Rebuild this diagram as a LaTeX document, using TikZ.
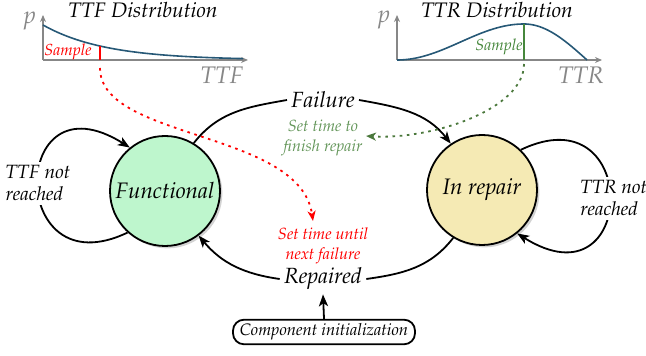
\documentclass[tikz,border=0pt]{standalone}
\usepackage[T1]{fontenc}
\usepackage{mathpazo}
\usetikzlibrary{arrows.meta,shadows,calc}

\definecolor{stategreen}{RGB}{190,246,205}
\definecolor{stateyellow}{RGB}{245,234,180}
\definecolor{curveblue}{RGB}{38,88,118}
\definecolor{axisgray}{RGB}{135,135,135}
\definecolor{samplegreen}{RGB}{70,135,60}
\definecolor{notegreen}{RGB}{100,150,90}
\definecolor{dotgreen}{RGB}{75,120,60}

\tikzset{
  fsz/.style={font=\fontsize{#1}{#1}\selectfont\itshape},
  state/.style={circle, draw, line width=0.9pt, minimum size=55pt, inner sep=0pt,
    drop shadow={shadow xshift=1.2pt, shadow yshift=-1.2pt, opacity=0.35}},
  trans/.style={line width=0.9pt, -{Stealth[length=6pt,width=4.6pt,inset=1.6pt]}},
  plain/.style={line width=0.9pt},
  event/.style={fsz=11, inner sep=2pt},
  note/.style={align=center, font=\fontsize{8.1}{10}\selectfont\itshape, inner sep=1pt},
  looplabel/.style={fill=white, align=left, font=\fontsize{9.6}{11}\selectfont\itshape, inner sep=2pt},
  axis/.style={axisgray, line width=0.6pt, -{Stealth[length=3.5pt,width=3pt]}},
  axislabel/.style={axisgray, fsz=12, inner sep=0pt},
  curve/.style={curveblue, line width=0.8pt},
  sampletext/.style={fsz=8, inner sep=0pt},
  samplelink/.style={line width=0.9pt, dash pattern=on 1.3pt off 2.3pt,
    -{Stealth[length=5pt,width=4pt,inset=1.4pt]}},
}

\begin{document}
\begin{tikzpicture}[x=0.5pt, y=-0.5pt]
\useasboundingbox (0,0) rectangle (646,356);

% ---------- TTF distribution ----------
\node[fsz=10.5] (ttftitle) at (143,10) {TTF Distribution};
\coordinate (ttfo) at (43,60);
\draw[axis] (ttfo) -- (43,15);
\draw[axis] (ttfo) -- (248,60);
\node[axislabel] (ttfp) at (30,21) {p};
\node[axislabel] (ttfx) at (222,75) {TTF};
\draw[curve] plot[domain=0:200, samples=60, smooth] ({43+\x},{60-35*exp(-\x/62)});
\coordinate (ttfbar) at (100,60);
\draw[red, line width=0.9pt] (ttfbar) -- (100,{60-35*exp(-57/62)});
\node[sampletext, red] (ttfsample) at (68,52) {Sample};

% ---------- TTR distribution ----------
\node[fsz=10.5] (ttrtitle) at (497,10) {TTR Distribution};
\coordinate (ttro) at (397,60);
\draw[axis] (ttro) -- (397,15);
\draw[axis] (ttro) -- (602,60);
\node[axislabel] (ttrp) at (384,20) {p};
\node[axislabel] (ttrx) at (581,75) {TTR};
\draw[curve] plot[domain=0:127, samples=50, smooth] ({397+\x},{60-18*(1-cos(\x/127*180))})
  -- plot[domain=0:63, samples=30, smooth] ({524+\x},{60-36*cos(\x/63*90)});
\coordinate (ttrbar) at (524,60);
\draw[samplegreen, line width=0.9pt] (ttrbar) -- (524,24);
\node[sampletext, samplegreen] (ttrsample) at (499,47) {Sample};

% ---------- states ----------
\node[state, fill=stategreen] (F) at (165,191) {\fontsize{11.2}{13}\selectfont\itshape Functional};
\node[state, fill=stateyellow] (R) at (482,190) {\fontsize{11.2}{13}\selectfont\itshape In repair};

% ---------- transitions ----------
\node[event] (fail) at (323,100) {Failure};
\node[event] (rep) at (323,279) {Repaired};

\draw[plain] (F.59) to[out=52, in=190] (fail.west);
\draw[trans] (fail.east) to[out=-10, in=128] (R.124);
\draw[plain] (R.-121) to[out=-128, in=8] (rep.east);
\draw[trans] (rep.west) to[out=172, in=-50] (F.-53);

% self loops
\draw[trans] (F.228) .. controls +(-121,58) and +(-121,-76) .. node[looplabel, pos=0.5] (ttfnot) {TTF not\\reached} (F.129);
\draw[trans] (R.46) .. controls +(121,-58) and +(121,76) .. node[looplabel, pos=0.5, xshift=2pt] (ttrnot) {TTR not\\reached} (R.-51);

% ---------- notes ----------
\node[note, notegreen] (repairnote) at (323,138) {Set time to\\finish repair};
\node[note, red] (failnote) at (323,246) {Set time until\\next failure};

\coordinate (redstart) at (100,68);
\coordinate (redtip) at (313,221);
\draw[samplelink, red] (redstart) .. controls (100,140) and (300,130) .. (redtip);

\coordinate (greenstart) at (524,64);
\coordinate (greentip) at (366,136);
\draw[samplelink, dotgreen] (greenstart) .. controls (524,110) and (430,140) .. (greentip);

% ---------- initialisation ----------
\node[draw, line width=0.9pt, rounded corners=5.5pt, minimum height=12pt, minimum width=91pt,
  inner sep=2pt, font=\fontsize{8.3}{10}\selectfont\itshape] (init) at (324,332) {Component initialization};
\draw[trans] (init.north) -- (rep.south);
\end{tikzpicture}
\end{document}
